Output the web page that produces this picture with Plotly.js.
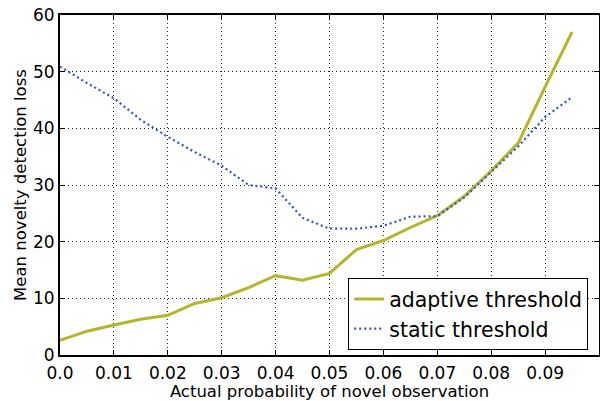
<!DOCTYPE html>
<html><head><meta charset="utf-8">
<script src="https://cdn.plot.ly/plotly-3.0.1.min.js"></script>
<style>body{margin:0;padding:0;background:#fff}#chart{width:600px;height:401px}</style>
</head><body><div id="chart"></div>
<script>
const probability = [0.000,0.005,0.010,0.015,0.020,0.025,0.030,0.035,0.040,0.045,0.050,0.055,0.060,0.065,0.070,0.075,0.080,0.085,0.090,0.095];
const adaptiveLoss = [2.6,4.2,5.3,6.3,7.0,9.1,10.1,11.9,14.0,13.2,14.4,18.6,20.2,22.5,24.6,28.0,32.5,37.4,47.3,57.0];
const staticLoss = [50.9,48.0,45.3,41.5,38.5,35.8,33.4,30.0,29.4,24.2,22.3,22.3,22.8,24.4,24.5,27.8,32.3,36.8,42.0,45.5];
const xTicks = [0,0.01,0.02,0.03,0.04,0.05,0.06,0.07,0.08,0.09];
const xTickText = ["0.0","0.01","0.02","0.03","0.04","0.05","0.06","0.07","0.08","0.09"];
const yTicks = [0,10,20,30,40,50,60];

const font = {family:"DejaVu Sans", color:"#000"};
const axisCommon = {
  showline:true, linecolor:"#000", linewidth:2, mirror:"ticks",
  ticks:"inside", ticklen:5, tickcolor:"#000",
  showgrid:true, gridcolor:"#222", griddash:"1px,3px", gridwidth:1,
  zeroline:false, tickfont:{family:"DejaVu Sans", size:17, color:"#000"}
};
const data = [
  {x:probability, y:adaptiveLoss, type:"scatter", mode:"lines", name:"adaptive threshold",
   line:{color:"#b5b52c", width:3}},
  {x:probability, y:staticLoss, type:"scatter", mode:"lines", name:"static threshold",
   line:{color:"#3355bb", width:2.2, dash:"2px,3px"}}
];
const layout = {
  width:600, height:401, margin:{l:60, r:1, t:15, b:46},
  paper_bgcolor:"#fff", plot_bgcolor:"#fff", font:font, showlegend:true,
  xaxis:Object.assign({}, axisCommon, {range:[0,0.1], tickvals:xTicks, ticktext:xTickText, ticklabelstandoff:2,
    title:{text:"Actual probability of novel observation", font:{family:"DejaVu Sans", size:16.5, color:"#000"}, standoff:0}}),
  yaxis:Object.assign({}, axisCommon, {range:[0,60], tickvals:yTicks,
    title:{text:"Mean novelty detection loss", font:{family:"DejaVu Sans", size:16.5, color:"#000"}, standoff:2}}),
  legend:{x:0.98, y:0.014, xanchor:"right", yanchor:"bottom", bgcolor:"#fff", bordercolor:"#000", borderwidth:1,
    font:{family:"DejaVu Sans", size:20.5, color:"#000"}, tracegroupgap:0}
};
Plotly.newPlot("chart", data, layout, {displayModeBar:false, staticPlot:true});
</script></body></html>
